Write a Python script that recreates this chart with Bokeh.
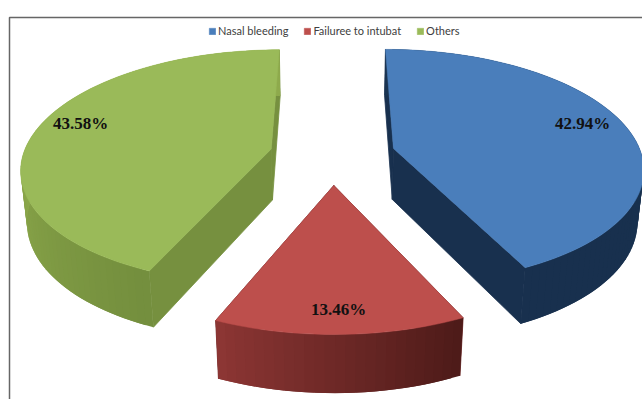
import numpy as np
from bokeh.embed import file_html
from bokeh.resources import INLINE
from bokeh.plotting import figure
from bokeh.models import Legend, LegendItem, ColumnDataSource
from bokeh.core.properties import value

# Slices of the exploded 3D pie, clockwise from twelve o'clock
categories = ["Nasal bleeding", "Failuree to intubat", "Others"]
shares = [42.94, 13.46, 43.58]
share_labels = ["42.94%", "13.46%", "43.58%"]

top_colors = ["#4a7ebb", "#bd4f4c", "#9aba59"]
wall_colors = ["#18304e", "#6e2a28", "#76903f"]
rim_start = [(26, 52, 82), (78, 27, 25), (116, 143, 62)]
rim_end = [(24, 48, 78), (140, 54, 52), (142, 170, 76)]
rim_span = [1.0, 1.0, 0.45]

label_x = [582, 338, 80]
label_y = [123, 309, 123]

# Projection of the pie plane onto the page
VANISH_X, HORIZON_Y = 332.0, 148.0
RADIUS_X, RADIUS_Y = 246.0, 114.0
PERSPECTIVE = 0.151
EXPLODE, CENTRE_V = 0.254, -0.055
THICKNESS, LOWER_W = 52.0, 0.02


def project(px, pv, lower=False):
    w = 1 + PERSPECTIVE * pv
    if lower:
        w = w + LOWER_W
        return VANISH_X + RADIUS_X * px / w, HORIZON_Y + (THICKNESS - RADIUS_Y * pv) / w
    return VANISH_X + RADIUS_X * px / w, HORIZON_Y - RADIUS_Y * pv / w


p = figure(width=642, height=399, x_range=(0, 642), y_range=(399, 0),
           output_backend="svg", toolbar_location=None, min_border=0,
           outline_line_color=None, background_fill_color="white")
p.xaxis.visible = False
p.yaxis.visible = False
p.xgrid.visible = False
p.ygrid.visible = False

# Chart frame: only its top and left edges fall inside the page
p.line([642, 9, 9], [17, 17, 399], line_color="#666666", line_width=1.5)

total = sum(shares)
start = 0.0
items = []
for i, share in enumerate(shares):
    sweep = 2 * np.pi * share / total
    mid = start + sweep / 2
    ox = EXPLODE * np.sin(mid)
    ov = EXPLODE * np.cos(mid) + CENTRE_V
    theta = np.linspace(start, start + sweep, max(int(share * 2), 12))
    arc_x, arc_v = ox + np.sin(theta), ov + np.cos(theta)

    top_x, top_y = project(arc_x, arc_v)
    low_x, low_y = project(arc_x, arc_v, lower=True)
    apex_x, apex_y = project(ox, ov)
    apex_lx, apex_ly = project(ox, ov, lower=True)

    # Flat walls along the two straight cuts, outlined so they tuck under the rim
    p.patches(
        [[apex_x, top_x[0], low_x[0], apex_lx], [apex_x, top_x[-1], low_x[-1], apex_lx]],
        [[apex_y, top_y[0], low_y[0], apex_ly], [apex_y, top_y[-1], low_y[-1], apex_ly]],
        fill_color=wall_colors[i], line_color=wall_colors[i], line_width=0.8,
    )

    # Curved rim, shaded strip by strip; each strip overlaps the next so no seams show
    n = len(theta) - 1
    c0, c1 = np.array(rim_start[i], float), np.array(rim_end[i], float)
    strips = dict(xs=[], ys=[], color=[])
    for k in range(n):
        e = min(k + 2, n)
        strips["xs"].append([top_x[k], top_x[e], low_x[e], low_x[k]])
        strips["ys"].append([top_y[k], top_y[e], low_y[e], low_y[k]])
        frac = min(k / max(n - 1, 1) / rim_span[i], 1.0)
        r, g, b = (c0 + (c1 - c0) * frac).astype(int)
        strips["color"].append(f"#{r:02x}{g:02x}{b:02x}")
    p.patches("xs", "ys", source=ColumnDataSource(strips), fill_color="color", line_color=None)

    # Top face
    face = p.patch(np.r_[apex_x, top_x], np.r_[apex_y, top_y],
                   fill_color=top_colors[i], line_color=top_colors[i], line_width=0.5)
    items.append(LegendItem(label=value(categories[i]), renderers=[face]))
    start += sweep

p.text(label_x, label_y, text=share_labels, text_font=value("Liberation Serif"),
       text_font_style="bold", text_font_size="17px", text_color="#111111",
       text_align="center", text_baseline="middle")

legend = Legend(items=items, orientation="horizontal", location=(208, 362),
                background_fill_alpha=0, border_line_color=None,
                glyph_width=8, glyph_height=8, label_standoff=2, spacing=15,
                margin=0, padding=0, label_height=12,
                label_text_font="Lato", label_text_font_size="11px",
                label_text_color="#404040", label_text_baseline="middle")
p.add_layout(legend, "center")

open("out.html", "w").write(file_html(p, INLINE))
